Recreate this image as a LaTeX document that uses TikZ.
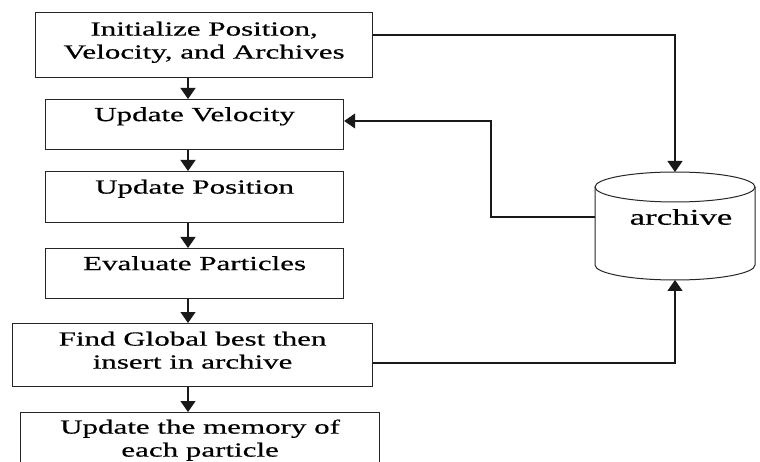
\documentclass[tikz,border=0pt]{standalone}
\usepackage{fontspec}
\setmainfont{Liberation Serif}[FakeStretch=1.55,FakeBold=0.5]
\usetikzlibrary{arrows.meta}
\begin{document}
\begin{tikzpicture}[x=1pt,y=-1pt,
  box/.style={draw=black!85, line width=1.2pt, inner sep=0pt, align=center,
    font=\fontsize{20}{23}\selectfont, anchor=north west},
  boxone/.style={box, text height=14pt, text depth=21pt},
  boxtwo/.style={box, text height=37pt, text depth=10pt},
  conn/.style={line width=1.2pt, draw=black!90},
  arr/.style={conn, -{Triangle[length=11pt,width=15pt]}},
  cyl/.style={line width=1pt, draw=black!85},
  lbl/.style={font=\fontsize{22.5}{26}\selectfont, inner sep=0pt}
]
\useasboundingbox (0,0) rectangle (760,462);
\clip (0,0) rectangle (760,462);

% process boxes
\node[boxtwo, minimum width=337pt, minimum height=65pt] (b1) at (35,12) {Initialize Position,\\Velocity, and Archives};
\node[boxone, minimum width=298pt, minimum height=50pt] (b2) at (45,99) {Update Velocity};
\node[boxone, minimum width=298pt, minimum height=51pt] (b3) at (45,171) {Update Position};
\node[boxone, minimum width=298pt, minimum height=50pt] (b4) at (45,248) {Evaluate Particles};
\node[boxtwo, minimum width=360pt, minimum height=63pt] (b5) at (12,323) {Find Global best then\\insert in archive};
\node[boxtwo, minimum width=359pt, minimum height=61pt] (b6) at (20,412) {Update the memory of\\each particle};

% archive cylinder
\draw[cyl] (675,187) ellipse [x radius=80, y radius=15];
\draw[cyl] (595,187) -- (595,265)
  .. controls (595,273.3) and (630.8,280) .. (675,280)
  .. controls (719.2,280) and (755,273.3) .. (755,265) -- (755,187);
\node[lbl] (arch) at (681,217) {archive};
\coordinate (archtop) at (675,172);
\coordinate (archbot) at (675,280);
\coordinate (archleft) at (595,217);

% helper coordinates
\coordinate (ax) at (188,0);
\coordinate (c1) at (675,35);
\coordinate (c2) at (491,121);
\coordinate (c3) at (675,363);

% main flow
\draw[arr] (b1.south -| ax) -- (b2.north -| ax);
\draw[arr] (b2.south -| ax) -- (b3.north -| ax);
\draw[arr] (b3.south -| ax) -- (b4.north -| ax);
\draw[arr] (b4.south -| ax) -- (b5.north -| ax);
\draw[arr] (b5.south -| ax) -- (b6.north -| ax);

% archive links
\draw[arr] (b1.north east |- c1) -- (c1) -- (archtop);
\draw[arr] (archleft) -| (c2) -- (b2.east |- c2);
\draw[arr] (b5.east |- c3) -- (c3) -- (archbot);
\end{tikzpicture}
\end{document}
